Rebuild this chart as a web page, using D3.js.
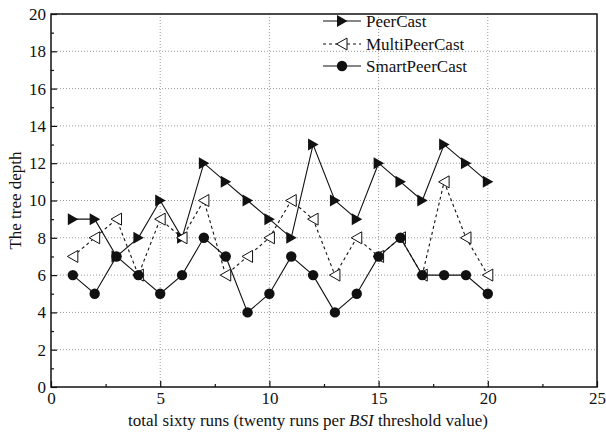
<!DOCTYPE html>
<html><head><meta charset="utf-8">
<script src="https://cdn.jsdelivr.net/npm/d3@7"></script>
<style>body{margin:0;background:#fff}svg{display:block}text{font-family:"Liberation Serif","Times New Roman",serif;fill:#111}</style>
</head><body><svg id="c" width="606" height="433"></svg>
<script>
const runs = d3.range(1, 21);
const peerCast = [9,9,7,8,10,8,12,11,10,9,8,13,10,9,12,11,10,13,12,11];
const multiPeerCast = [7,8,9,6,9,8,10,6,7,8,10,9,6,8,7,8,6,11,8,6];
const smartPeerCast = [6,5,7,6,5,6,8,7,4,5,7,6,4,5,7,8,6,6,6,5];
const xTicks = [0,5,10,15,20,25];
const yTicks = [0,2,4,6,8,10,12,14,16,18,20];
const seriesNames = ["PeerCast","MultiPeerCast","SmartPeerCast"];

const svg = d3.select("#c");
const L = 51, R = 597, T = 14, B = 387;
const x = d3.scaleLinear().domain([0,25]).range([L,R]);
const y = d3.scaleLinear().domain([0,20]).range([B,T]);
const FS = "17px";

// grid
const g = svg.append("g");
g.selectAll(".gx").data(xTicks.filter(d=>d>0&&d<25)).join("line")
  .attr("x1",d=>x(d)).attr("x2",d=>x(d)).attr("y1",T).attr("y2",B)
  .attr("stroke","#999").attr("stroke-width",1).attr("stroke-dasharray","1,2");
g.selectAll(".gy").data(yTicks.filter(d=>d>0&&d<20)).join("line")
  .attr("y1",d=>y(d)).attr("y2",d=>y(d)).attr("x1",L).attr("x2",R)
  .attr("stroke","#999").attr("stroke-width",1).attr("stroke-dasharray","1,2");

// axes
const xAxis = d3.axisBottom(x).tickValues(xTicks).tickSize(-6).tickPadding(5).tickFormat(d3.format("d"));
const xMinor = d3.axisBottom(x).tickValues([2.5,7.5,12.5,17.5,22.5]).tickSize(-3).tickFormat("");
const yAxis = d3.axisLeft(y).tickValues(yTicks).tickSize(-6).tickPadding(5).tickFormat(d3.format("d"));
const yMinor = d3.axisLeft(y).tickValues(d3.range(1,20,2)).tickSize(-3).tickFormat("");
function style(sel){sel.select(".domain").remove();sel.selectAll("line").attr("stroke","#111").attr("stroke-width",1.2);sel.selectAll("text").style("font-size",FS).attr("fill","#111");}
svg.append("g").attr("transform",`translate(0,${B})`).call(xAxis).call(style);
svg.append("g").attr("transform",`translate(0,${B})`).call(xMinor).call(style);
svg.append("g").attr("transform",`translate(${L},0)`).call(yAxis).call(style);
svg.append("g").attr("transform",`translate(${L},0)`).call(yMinor).call(style);
svg.append("rect").attr("x",L).attr("y",T).attr("width",R-L).attr("height",B-T)
  .attr("fill","none").attr("stroke","#111").attr("stroke-width",1.5);

// labels
svg.append("text").attr("x",(L+R)/2 - 16).attr("y",426).attr("text-anchor","middle").style("font-size",FS)
  .html('total sixty runs (twenty runs per <tspan font-style="italic">BSI</tspan> threshold value)');
svg.append("text").attr("transform",`translate(21,${(T+B)/2}) rotate(-90)`).attr("text-anchor","middle").style("font-size",FS)
  .text("The tree depth");

const triR = d3.symbol().type({draw(ctx){ctx.moveTo(5.5,0);ctx.lineTo(-5,-6);ctx.lineTo(-5,6);ctx.closePath();}});
const triL = d3.symbol().type({draw(ctx){ctx.moveTo(-5.5,0);ctx.lineTo(5,-6);ctx.lineTo(5,6);ctx.closePath();}});
const line = d3.line().x((d,i)=>x(runs[i])).y(d=>y(d));

const series = [
  {name:seriesNames[0], data:peerCast, dash:null, marker:(s)=>s.append("path").attr("d",triR()).attr("fill","#111")},
  {name:seriesNames[1], data:multiPeerCast, dash:"3,3", marker:(s)=>s.append("path").attr("d",triL()).attr("fill","#fff").attr("stroke","#111").attr("stroke-width",1)},
  {name:seriesNames[2], data:smartPeerCast, dash:null, marker:(s)=>s.append("circle").attr("r",5.2).attr("fill","#111")}
];
series.forEach(s=>{
  svg.append("path").datum(s.data).attr("d",line).attr("fill","none").attr("stroke","#111")
    .attr("stroke-width",1.1).attr("stroke-dasharray",s.dash);
});
series.forEach(s=>{
  const m = svg.append("g").selectAll("g").data(s.data).join("g")
    .attr("transform",(d,i)=>`translate(${x(runs[i])},${y(d)})`);
  m.each(function(){s.marker(d3.select(this));});
});

// legend
const legY = [21,44,66];
series.forEach((s,i)=>{
  const lg = svg.append("g").attr("transform",`translate(0,${legY[i]})`);
  lg.append("line").attr("x1",323).attr("x2",361).attr("y1",0).attr("y2",0)
    .attr("stroke","#111").attr("stroke-width",1.1).attr("stroke-dasharray",s.dash);
  const mk = lg.append("g").attr("transform","translate(342,0)");
  s.marker(mk);
  lg.append("text").attr("x",366).attr("y",5.5).style("font-size",FS).text(s.name);
});
</script></body></html>
